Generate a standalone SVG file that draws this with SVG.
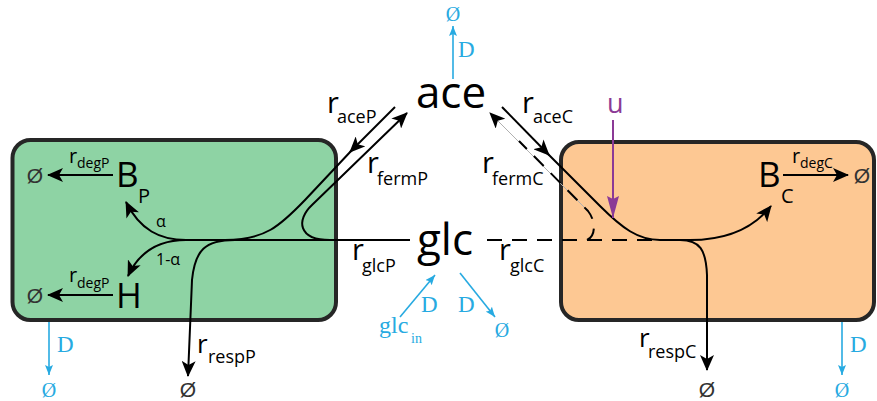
<svg xmlns="http://www.w3.org/2000/svg" width="877" height="401" viewBox="0 0 877 401">
<style>
.s{font-family:"Open Sans","DejaVu Sans",sans-serif;fill:#000}
.b{font-family:"Liberation Serif","DejaVu Serif",serif;fill:#27aae1}
.ln{fill:none;stroke:#000;stroke-width:2}
.bl{fill:none;stroke:#27aae1;stroke-width:1.6}
.big{font-size:44px}
.r{font-size:29px}
.sub{font-size:18px}
.rs{font-size:20px}
.ss{font-size:14px}
.e{font-family:"Liberation Sans","DejaVu Sans",sans-serif;font-size:21px;font-weight:300;fill:#333}
.box{stroke:#262626;stroke-width:4}
</style>
<defs>
<marker id="ah" viewBox="0 0 16 14" refX="15" refY="7" markerWidth="16" markerHeight="14" markerUnits="userSpaceOnUse" orient="auto">
<path d="M0,0 L16,7 L0,14 L4,7 Z" fill="#000"/>
</marker>
<marker id="ab" viewBox="0 0 10 8" refX="10" refY="4" markerWidth="10" markerHeight="8" markerUnits="userSpaceOnUse" orient="auto">
<path d="M0,0 L10,4 L0,8 L2,4 Z" fill="#27aae1"/>
</marker>
<marker id="ap" viewBox="0 0 22 12" refX="22" refY="6" markerWidth="22" markerHeight="12" markerUnits="userSpaceOnUse" orient="auto">
<path d="M0,0 L22,6 L0,12 L3,6 Z" fill="#8b3a96"/>
</marker>
</defs>

<g id="cellP">
<rect class="box" x="12.5" y="140" width="323.5" height="180" rx="18" fill="#8ed3a4"/>
</g>
<g id="cellC">
<rect class="box" x="561" y="142" width="313" height="178" rx="18" fill="#fdc893"/>
</g>

<g id="connectors">
<!-- P side -->
<path class="ln" d="M410 240 L182 240"/>
<path class="ln" d="M186 240 C160 240 140 230 126 202" marker-end="url(#ah)"/>
<path class="ln" d="M186 240 C160 240 140 250 128 276" marker-end="url(#ah)"/>
<path class="ln" d="M235 240 C205 240 195 250 192 280 L188 376" marker-end="url(#ah)"/>
<path class="ln" d="M113 175 L48 175" marker-end="url(#ah)"/>
<path class="ln" d="M113 295 L48 295" marker-end="url(#ah)"/>
<path class="ln" d="M395 107 L350 152" marker-end="url(#ah)"/>
<path class="ln" d="M352 150 L305 200 C280 226 265 240 225 240"/>
<path class="ln" d="M330 240 C298 240 296 220 312 205 L407 113" marker-end="url(#ah)"/>
<!-- C side -->
<path class="ln" d="M502 107 L549 155" marker-end="url(#ah)"/>
<path class="ln" d="M547 153 L600 206 C622 228 638 240 660 240 L690 240 C725 240 752 230 771 206" marker-end="url(#ah)"/>
<path class="ln" d="M680 240 C700 240 706 250 707 275 L707 370" marker-end="url(#ah)"/>
<path class="ln" d="M783 175 L848 175" marker-end="url(#ah)"/>
<path class="ln" d="M487 240 L662 240" stroke-dasharray="15 10"/>
<path d="M588 211 L490 113" fill="none" stroke="#b0b0b0" stroke-width="1" marker-end="url(#ah)"/>
<path class="ln" d="M587 240 C596 236 596 221 588 211 L519 141" stroke-dasharray="14 10"/>
<path d="M613 120 L613 218" fill="none" stroke="#8b3a96" stroke-width="2" marker-end="url(#ap)"/>
<!-- blue dilution -->
<path class="bl" d="M453 79 L453 26" marker-end="url(#ab)"/>
<path class="bl" d="M400 317 L435 275" marker-end="url(#ab)"/>
<path class="bl" d="M460 273 L495 317" marker-end="url(#ab)"/>
<path class="bl" d="M49 322 L49 375" marker-end="url(#ab)"/>
<path class="bl" d="M842 322 L842 375" marker-end="url(#ab)"/>
</g>

<g id="ace">
<text class="s big" x="451" y="108" text-anchor="middle">ace</text>
</g>
<g id="glc">
<text class="s big" x="445" y="255" text-anchor="middle">glc</text>
</g>
<g id="BP">
<text class="s" font-size="35" x="116" y="187">B</text>
<text class="s" font-size="20" x="138" y="203">P</text>
</g>
<g id="H">
<text class="s" font-size="35" x="116" y="308">H</text>
</g>
<g id="BC">
<text class="s" font-size="35" x="758" y="187">B</text>
<text class="s" font-size="20" x="781" y="203">C</text>
</g>

<g id="labels">
<text class="s r" x="327" y="113">r</text><text class="s sub" x="337" y="123">aceP</text>
<text class="s r" x="367" y="173">r</text><text class="s sub" x="377" y="185">fermP</text>
<text class="s r" x="522" y="113">r</text><text class="s sub" x="533" y="123">aceC</text>
<text class="s r" x="482" y="173">r</text><text class="s sub" x="492" y="185">fermC</text>
<text class="s r" x="352" y="260">r</text><text class="s sub" x="362" y="272">glcP</text>
<text class="s r" x="499" y="260">r</text><text class="s sub" x="510" y="272">glcC</text>
<text class="s" font-size="26" x="197" y="353">r</text><text class="s sub" x="208" y="363">respP</text>
<text class="s" font-size="26" x="639" y="347">r</text><text class="s sub" x="648" y="358">respC</text>
<text class="s rs" x="69" y="163">r</text><text class="s ss" x="77" y="168">degP</text>
<text class="s rs" x="69" y="282">r</text><text class="s ss" x="77" y="288">degP</text>
<text class="s rs" x="792" y="163">r</text><text class="s ss" x="800" y="168">degC</text>
<text class="s" font-size="16" x="156" y="227">α</text>
<text class="s" font-size="16" x="156" y="265">1-α</text>
<text x="607" y="113" font-family="Open Sans, sans-serif" font-size="27" fill="#8b3a96">u</text>
<text class="e" x="35" y="183" text-anchor="middle">Ø</text>
<text class="e" x="35" y="303" text-anchor="middle">Ø</text>
<text class="e" x="862" y="183" text-anchor="middle">Ø</text>
<text class="e" x="188" y="397" text-anchor="middle">Ø</text>
<text class="e" x="707" y="397" text-anchor="middle">Ø</text>
<text class="b" font-size="20" x="453" y="21" text-anchor="middle">Ø</text>
<text class="b" font-size="23" x="458" y="57">D</text>
<text class="b" font-size="23" x="421" y="312">D</text>
<text class="b" font-size="23" x="458" y="312">D</text>
<text class="b" font-size="20" x="502" y="337" text-anchor="middle">Ø</text>
<text class="b" font-size="24" x="379" y="333">glc</text><text class="b" font-size="14" x="411" y="343">in</text>
<text class="b" font-size="23" x="57" y="352">D</text>
<text class="b" font-size="20" x="49" y="397" text-anchor="middle">Ø</text>
<text class="b" font-size="23" x="850" y="352">D</text>
<text class="b" font-size="20" x="842" y="397" text-anchor="middle">Ø</text>
</g>
</svg>
